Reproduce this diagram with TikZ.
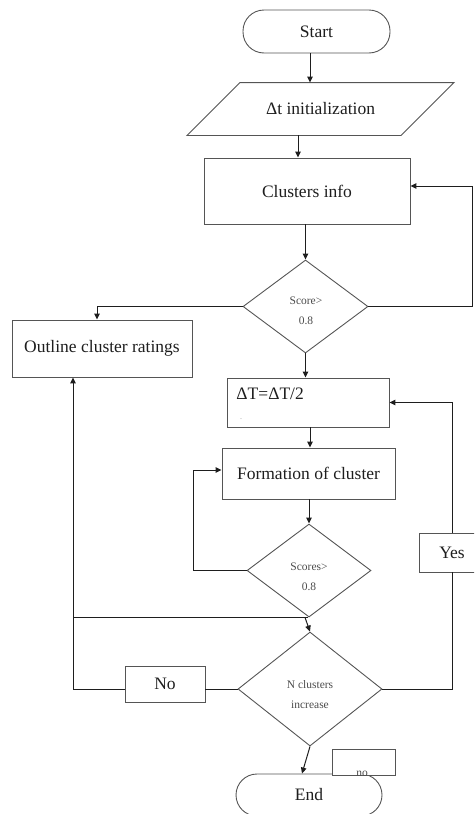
\documentclass[tikz,border=0pt]{standalone}
\usepackage{fontspec}
\setmainfont{Liberation Serif}
\usetikzlibrary{shapes.geometric,arrows.meta}

\definecolor{edge}{HTML}{555555}
\definecolor{ink}{HTML}{1E1E1E}

\tikzset{
  box/.style={draw=edge, line width=0.9pt, inner sep=0pt, text=ink,
    font=\fontsize{17.5}{20}\selectfont},
  term/.style={box, rounded corners=21pt},
  decision/.style={diamond, draw=edge, line width=0.9pt, inner sep=0pt},
  small/.style={font=\fontsize{11.5}{20}\selectfont, text=ink!80, align=center, inner sep=0pt},
  arr/.style={draw=ink, line width=1pt, -{Triangle[length=6pt,width=5.5pt]}},
  link/.style={draw=ink, line width=1pt}
}

\begin{document}
\begin{tikzpicture}[x=1pt,y=-1pt]
\useasboundingbox (0,0) rectangle (474,814);
\clip (0,0) rectangle (474,814);

% main column
\node[term, minimum width=147pt, minimum height=43pt] (start) at (316.5,31.5) {Start};

\node[box, draw=none, minimum width=213pt, minimum height=52pt] (init) at (320.5,109) {Δt initialization};
\draw[edge, line width=0.9pt]
  ([xshift=-26.5pt]init.south west) -- ([xshift=26.5pt]init.north west) --
  ([xshift=26.5pt]init.north east) -- ([xshift=-26.5pt]init.south east) -- cycle;

\node[box, minimum width=206pt, minimum height=66pt] (clusters) at (307,191) {Clusters info};

\node[decision, minimum width=125pt, minimum height=93pt] (d1) at (305.5,306.5) {};
\node[small] (d1t) at (306,311) {Score>\\0.8};

\node[box, minimum width=180pt, minimum height=57pt] (outline) at (102,348.5) {Outline cluster ratings};

\node[box, minimum width=162pt, minimum height=49pt] (dt) at (308,402.5) {};
\node[box, draw=none, anchor=west] (dtt) at (236,394) {ΔT=ΔT/2};
\node[small, font=\fontsize{6}{7}\selectfont] (dtdot) at (241,419) {.};

\node[box, minimum width=173pt, minimum height=51pt] (formation) at (308.5,473.5) {Formation of cluster};

\node[decision, minimum width=124pt, minimum height=93pt] (d2) at (309,570.5) {};
\node[small] (d2t) at (309,577) {Scores>\\0.8};

\node[decision, minimum width=144pt, minimum height=114pt] (d3) at (310,689) {};
\node[small] (d3t) at (310,695) {N clusters\\increase};

\node[box, minimum width=80pt, minimum height=36pt] (no) at (165,684) {No};
\node[box, minimum width=66pt, minimum height=39pt] (yes) at (452,552.5) {Yes};

\node[term, minimum width=146pt, minimum height=42pt] (end) at (309,795) {End};
\node[box, fill=white, minimum width=63pt, minimum height=26pt] (nobox) at (363.5,762) {};
\begin{scope}
  \clip (nobox.south west) rectangle (nobox.north east);
  \node[small, anchor=base] (notext) at (362,776.5) {no};
\end{scope}

% flow
\draw[arr] ([xshift=-6.5pt]start.south) -- ([xshift=-6.5pt]start.south |- init.north);
\draw[arr] ([xshift=-9pt]clusters.north |- init.south) -- ([xshift=-9pt]clusters.north);
\draw[arr] (clusters.south -| d1.north) -- (d1.north);
\coordinate (r1) at (472,186);
\draw[arr] (d1.east) -| (r1) -- (r1 -| clusters.east);
\draw[arr] (d1.west) -| ([xshift=-5pt]outline.north);
\draw[arr] (d1.south) -- (d1.south |- dt.north);
\draw[arr] ([xshift=2pt]dt.south) -- ([xshift=2pt]dt.south |- formation.north);
\draw[arr] (formation.south -| d2.north) -- (d2.north);
\coordinate (l2) at (193,470);
\draw[arr] (d2.west) -| (l2) -- (l2 -| formation.west);
\coordinate (l3) at (73,618);
\draw[link] ([xshift=-1pt]d2.south) -- (d2.south -| l3);
\draw[arr] ([xshift=-4pt]d2.south) -- (d3.north);
\draw[link] (d3.west) -- (d3.west -| no.east);
\draw[arr] (no.west |- d3.west) -| ([xshift=-29pt]outline.south);
\draw[link] (d3.east) -| (yes.south);
\draw[arr] (yes.north) |- (dt.east);
\draw[arr] (d3.south) -- ([xshift=-7pt]end.north);
\end{tikzpicture}
\end{document}
